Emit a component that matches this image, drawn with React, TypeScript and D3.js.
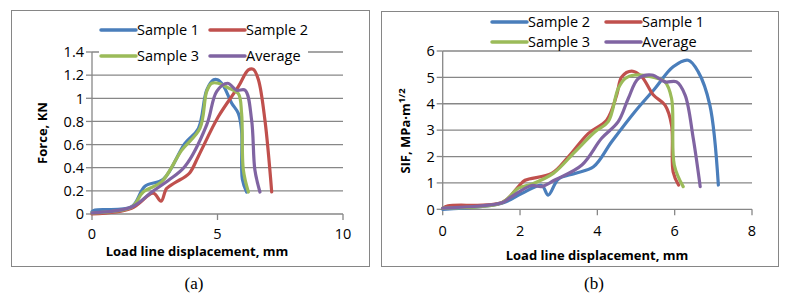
import React from 'react';
import * as d3 from 'd3';

type Pt = [number, number];

// panel (a): force vs load line displacement
const forceSample1: Pt[] = [[0, 0.02], [0.12, 0.035], [1.58, 0.063], [2.11, 0.24], [2.84, 0.3], [3.7, 0.61], [4.24, 0.74], [4.57, 1.07], [4.85, 1.16], [5.0, 1.16], [5.23, 1.11], [5.56, 0.96], [5.83, 0.87], [5.96, 0.72], [5.99, 0.3], [6.16, 0.19]];
const forceSample2: Pt[] = [[0, 0], [1.58, 0.05], [2.44, 0.18], [2.75, 0.11], [2.97, 0.22], [3.3, 0.27], [3.87, 0.35], [4.24, 0.5], [5.03, 0.84], [5.83, 1.1], [6.23, 1.245], [6.43, 1.25], [6.63, 1.16], [6.89, 0.81], [7.16, 0.19]];
const forceSample3: Pt[] = [[0, 0.01], [1.58, 0.06], [2.04, 0.19], [2.78, 0.28], [3.57, 0.55], [4.3, 0.74], [4.57, 1.06], [4.77, 1.13], [5.03, 1.13], [5.43, 1.09], [5.83, 1.04], [5.96, 0.87], [6.03, 0.38], [6.23, 0.19]];
const forceAverage: Pt[] = [[0, 0.01], [1.58, 0.06], [2.38, 0.19], [3.04, 0.29], [3.7, 0.41], [4.57, 0.77], [4.97, 1.06], [5.4, 1.13], [5.76, 1.07], [6.1, 1.07], [6.36, 0.81], [6.49, 0.38], [6.69, 0.19]];

// panel (b): SIF vs load line displacement
const sifSample2: Pt[] = [[0, 0], [1.53, 0.23], [2.04, 0.6], [2.56, 0.9], [2.73, 0.54], [2.99, 1.14], [3.42, 1.36], [3.9, 1.61], [4.37, 2.56], [4.97, 3.7], [5.49, 4.58], [5.96, 5.4], [6.35, 5.65], [6.61, 5.21], [6.91, 3.95], [7.13, 0.92]];
const sifSample1: Pt[] = [[0, 0.04], [0.14, 0.13], [1.55, 0.27], [1.98, 0.9], [2.13, 1.1], [2.82, 1.36], [3.25, 1.99], [3.77, 2.88], [4.24, 3.38], [4.5, 4.33], [4.63, 5.02], [4.89, 5.24], [5.15, 5.02], [5.45, 4.33], [5.75, 3.95], [5.92, 3.19], [5.96, 1.42], [6.1, 0.92]];
const sifSample3: Pt[] = [[0, 0.05], [1.53, 0.25], [1.96, 0.8], [2.3, 0.95], [2.86, 1.36], [3.42, 2.18], [3.94, 2.94], [4.28, 3.32], [4.54, 4.58], [4.72, 4.96], [4.97, 5.09], [5.41, 5.02], [5.75, 4.83], [5.92, 4.2], [5.99, 1.68], [6.22, 0.86]];
const sifAverage: Pt[] = [[0, 0.05], [1.53, 0.25], [1.75, 0.45], [2.3, 0.9], [2.56, 0.86], [2.9, 1.11], [3.6, 1.68], [4.11, 2.69], [4.54, 3.32], [4.8, 4.2], [5.06, 4.96], [5.41, 5.09], [5.75, 4.83], [6.05, 4.83], [6.27, 4.33], [6.48, 2.69], [6.66, 0.86]];

const forceXTicks = [0, 5, 10];
const forceYTicks = [0, 0.2, 0.4, 0.6, 0.8, 1, 1.2, 1.4];
const sifXTicks = [0, 2, 4, 6, 8];
const sifYTicks = [0, 1, 2, 3, 4, 5, 6];

const BLUE = '#4A7EBB';
const RED = '#C0504D';
const GREEN = '#9BBB59';
const PURPLE = '#8064A2';
const GRID = '#878787';
const FONT = "'Open Sans', 'Liberation Sans', sans-serif";

interface Series { name: string; color: string; data: Pt[] }

interface PanelProps {
    frame: { x: number; y: number; w: number; h: number };
    plot: { left: number; right: number; top: number; bottom: number };
    xDomain: [number, number];
    yDomain: [number, number];
    xTicks: number[];
    yTicks: number[];
    series: Series[];
    legend: { rows: number[]; cols: number[]; bg?: boolean };
    xTitle: { x: number; y: number };
    yTitle: { x: number; y: number; sup?: boolean; text: string };
    xTickY: number;
    caption: { x: number; text: string };
}

const Panel = (p: PanelProps) => {
    const x = d3.scaleLinear().domain(p.xDomain).range([p.plot.left, p.plot.right]);
    const y = d3.scaleLinear().domain(p.yDomain).range([p.plot.bottom, p.plot.top]);
    const line = d3.line<Pt>()
        .x(d => x(d[0]))
        .y(d => y(d[1]))
        .curve(d3.curveCatmullRom.alpha(0.5));

    return (
        <g>
            <rect x={p.frame.x + 0.5} y={p.frame.y + 0.5} width={p.frame.w} height={p.frame.h}
                fill="white" stroke="#868686" strokeWidth={1} />
            {/* gridlines */}
            {p.yTicks.map(t => (
                <line key={'g' + t} x1={p.plot.left} x2={p.plot.right} y1={y(t)} y2={y(t)}
                    stroke={GRID} strokeWidth={1.3} />
            ))}
            {/* y axis */}
            <line x1={p.plot.left} x2={p.plot.left} y1={p.plot.top} y2={p.plot.bottom} stroke={GRID} strokeWidth={1.3} />
            {p.yTicks.map(t => (
                <g key={'y' + t}>
                    <line x1={p.plot.left - 6} x2={p.plot.left} y1={y(t)} y2={y(t)} stroke={GRID} strokeWidth={1.3} />
                    <text x={p.plot.left - 8} y={y(t)} dy="0.36em" textAnchor="end" fontSize={14.5}
                        fontFamily={FONT} fill="#000">{String(t)}</text>
                </g>
            ))}
            {/* x axis ticks */}
            {p.xTicks.map(t => (
                <g key={'x' + t}>
                    <line x1={x(t)} x2={x(t)} y1={p.plot.bottom} y2={p.plot.bottom + 6} stroke={GRID} strokeWidth={1.3} />
                    <text x={x(t)} y={p.xTickY} textAnchor="middle" fontSize={14.5}
                        fontFamily={FONT} fill="#000">{String(t)}</text>
                </g>
            ))}
            {/* series */}
            {p.series.map(s => (
                <path key={s.name} d={line(s.data) || ''} fill="none" stroke={s.color}
                    strokeWidth={3.2} strokeLinejoin="round" strokeLinecap="round" />
            ))}
            {/* legend */}
            {p.legend.bg && (
                <rect x={p.legend.cols[0] - 2} y={p.legend.rows[0] - 12}
                    width={p.legend.cols[1] - p.legend.cols[0] + 100} height={p.legend.rows[1] - p.legend.rows[0] + 22}
                    fill="white" />
            )}
            {p.series.map((s, i) => {
                const lx = p.legend.cols[i % 2];
                const ly = p.legend.rows[Math.floor(i / 2)];
                return (
                    <g key={'l' + s.name}>
                        <line x1={lx} x2={lx + 35} y1={ly} y2={ly} stroke={s.color} strokeWidth={3.5} strokeLinecap="round" />
                        <text x={lx + 36} y={ly} dy="0.36em" fontSize={14.5} fontFamily={FONT} fill="#000">{s.name}</text>
                    </g>
                );
            })}
            {/* axis titles */}
            <text x={p.xTitle.x} y={p.xTitle.y} textAnchor="middle" fontSize={13} fontWeight="bold"
                fontFamily={FONT} fill="#000">Load line displacement, mm</text>
            <text transform={`translate(${p.yTitle.x},${p.yTitle.y}) rotate(-90)`} textAnchor="middle"
                fontSize={13} fontWeight="bold" fontFamily={FONT} fill="#000">
                {p.yTitle.text}
                {p.yTitle.sup && <tspan fontSize={9.5} dy={-5}>1/2</tspan>}
            </text>
            <text x={p.caption.x} y={289} textAnchor="middle" fontSize={17}
                fontFamily="'Liberation Serif', 'Times New Roman', serif" fill="#000">{p.caption.text}</text>
        </g>
    );
};

const App = () => {
    return (
        <svg width={786} height={301} style={{ position: 'absolute', left: 0, top: 0, background: 'white' }}>
            <Panel
                frame={{ x: 11, y: 10, w: 358, h: 256 }}
                plot={{ left: 92, right: 343, top: 52, bottom: 214 }}
                xDomain={[0, 10]}
                yDomain={[0, 1.4]}
                xTicks={forceXTicks}
                yTicks={forceYTicks}
                series={[
                    { name: 'Sample 1', color: BLUE, data: forceSample1 },
                    { name: 'Sample 2', color: RED, data: forceSample2 },
                    { name: 'Sample 3', color: GREEN, data: forceSample3 },
                    { name: 'Average', color: PURPLE, data: forceAverage },
                ]}
                legend={{ rows: [30, 56], cols: [101, 210], bg: true }}
                xTitle={{ x: 197, y: 255.5 }}
                yTitle={{ x: 47, y: 133, text: 'Force, KN' }}
                xTickY={239}
                caption={{ x: 194, text: '(a)' }}
            />
            <Panel
                frame={{ x: 381, y: 11, w: 397, h: 255 }}
                plot={{ left: 442.7, right: 752, top: 51, bottom: 209.3 }}
                xDomain={[0, 8]}
                yDomain={[0, 6]}
                xTicks={sifXTicks}
                yTicks={sifYTicks}
                series={[
                    { name: 'Sample 2', color: BLUE, data: sifSample2 },
                    { name: 'Sample 1', color: RED, data: sifSample1 },
                    { name: 'Sample 3', color: GREEN, data: sifSample3 },
                    { name: 'Average', color: PURPLE, data: sifAverage },
                ]}
                legend={{ rows: [22, 42], cols: [492, 606] }}
                xTitle={{ x: 597, y: 260 }}
                yTitle={{ x: 410, y: 131, text: 'SIF, MPa·m', sup: true }}
                xTickY={236}
                caption={{ x: 594, text: '(b)' }}
            />
        </svg>
    );
};

export default App;
